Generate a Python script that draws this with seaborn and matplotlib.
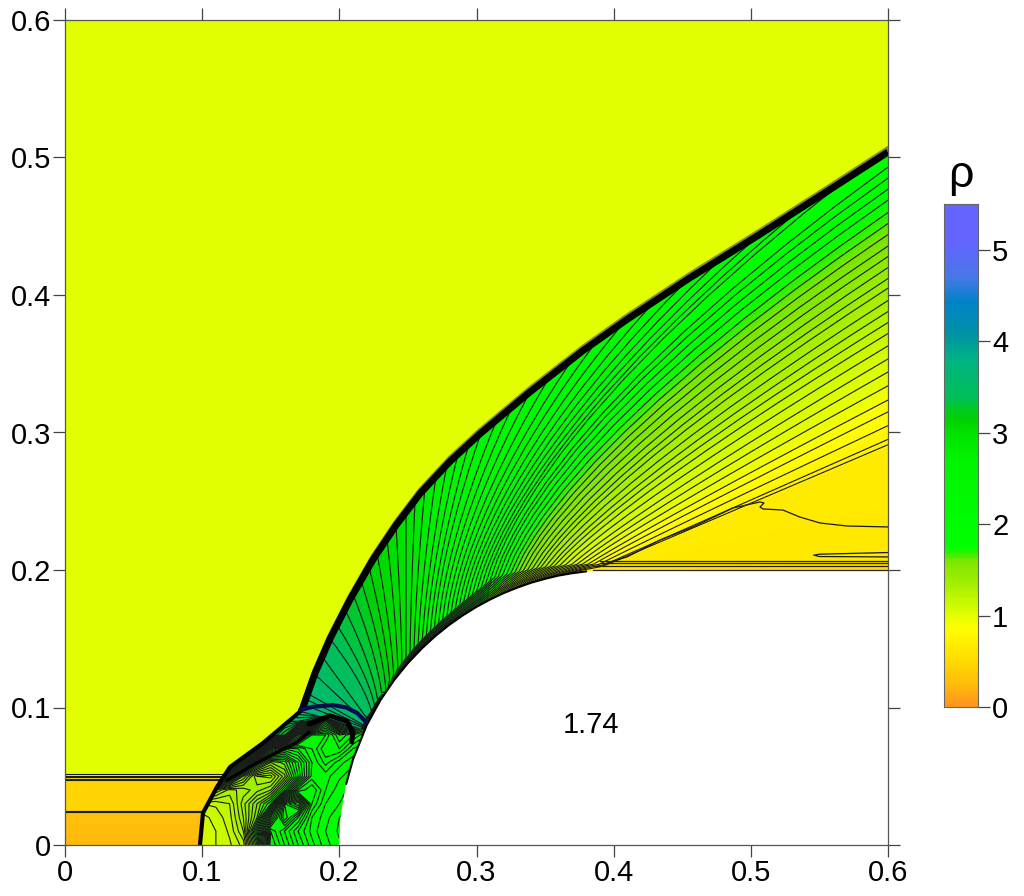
import numpy as np
import matplotlib
matplotlib.use("Agg")
import matplotlib.pyplot as plt
from matplotlib.colors import LinearSegmentedColormap
from matplotlib.patches import Polygon
import seaborn as sns

RHO_MAX = 5.5

# colour bar stops
CMAP_RHO = [0, .25, .5, .85, 1.0, 1.3, 1.6, 1.68, 1.75, 2.7, 3.0, 3.15, 3.4, 3.8, 4.1, 4.45, 4.7, 5.1, 5.5]
CMAP_RGB = [(255, 150, 30), (255, 190, 10), (255, 220, 0), (255, 255, 0), (223, 255, 0), (170, 240, 0),
            (120, 230, 0), (40, 245, 0), (0, 255, 0), (0, 245, 0), (0, 225, 0), (0, 210, 0), (0, 190, 90),
            (0, 180, 130), (0, 145, 165), (0, 130, 200), (70, 120, 230), (100, 100, 255), (100, 100, 255)]

# shocked layer: one row per station running from the body out to the shock / right edge
outer_x = [.6] * 28 + [
    .5723, .5395, .5067, .479, .4542, .4301, .4083, .3878, .3703, .3536,
    .339, .3259, .3149, .3033, .2945, .2865, .2785, .2705, .2624, .2552,
    .2486, .2413, .2347, .2275, .2216, .2158, .21, .2041, .1983, .1932,
    .1875, .182, .177, .1725]
outer_y = [.2, .2065, .288,
    .295, .305, .315, .3236, .334, .344, .3535, .363, .372, .38, .388, .396,
    .405, .412, .42, .428, .4356, .444, .452, .46, .469, .477, .485, .493, .503,
    .4861, .4651, .4442, .427, .4116, .3957, .3812, .3667, .3538, .3409,
    .3295, .3185, .3094, .2997, .2916, .2843, .2766, .268, .2594, .2508,
    .2421, .2325, .2227, .212, .2025, .1924, .1823, .1713, .1599, .15,
    .137, .1243, .1101, .098]
wall_x = [.395, .39, .3855,
    .3827, .3791, .3754, .3718, .3682, .3645, .3609, .3572, .3536, .3499,
    .3471, .3442, .3413, .3385, .3356, .3327, .3299, .327, .3241, .3213, .3184, .3155, .3127, .3098, .3084,
    .3069, .304, .3011, .2982, .2953, .2923, .2894, .2865, .2836, .2807,
    .2778, .2748, .2719, .269, .2661, .2632, .2603, .2573, .2544, .2515,
    .2486, .2457, .2428, .2398, .2369, .234, .2311, .2282, .226, .2238,
    .2215, .2205, .2195, .2185]
wall_y = [.2, .1998, .1994,
    .1992, .1989, .1985, .198, .1975, .1968, .1961, .1954, .1945, .1936,
    .1929, .1921, .1912, .1903, .1894, .1883, .1873, .1862, .185, .1839, .1826, .1813, .18, .1785, .1778,
    .177, .1755, .1738, .1722, .1704, .1685, .1666, .1647, .1626, .1605,
    .1583, .156, .1536, .1511, .1486, .1459, .1431, .1401, .1375, .134,
    .1307, .1273, .1237, .1197, .1158, .1115, .107, .1024, .0986, .0946,
    .0902, .0882, .0862, .084]
rho_main = [.45, .62, .66,
    .75, .8, .85, .9, .95, 1.0, 1.05, 1.1, 1.15, 1.2, 1.25, 1.3,
    1.35, 1.4, 1.45, 1.5, 1.55, 1.6, 1.65, 1.7, 1.75, 1.8, 1.85, 1.9, 1.92,
    1.95, 2.0, 2.05, 2.1, 2.15, 2.2, 2.25, 2.3, 2.35, 2.4, 2.45, 2.5,
    2.55, 2.6, 2.65, 2.7, 2.75, 2.8, 2.85, 2.9, 2.95, 3.0, 3.05, 3.1,
    3.15, 3.2, 3.25, 3.3, 3.35, 3.4, 3.45, 3.5, 3.55, 3.7]
rho_wall = [.45, .55, .55,
    .58, .6, .62, .64, .68, .72, .76, .8, .84, .88, .92, .96,
    1.0, 1.04, 1.08, 1.12, 1.16, 1.2, 1.25, 1.3, 1.35, 1.4, 1.45, 1.5, 1.52,
    1.55, 1.6, 1.65, 1.7, 1.75, 1.8, 1.85, 1.9, 1.95, 2.0, 2.05, 2.1,
    2.15, 2.2, 2.25, 2.3, 2.35, 2.4, 2.5, 2.6, 2.7, 2.8, 2.9, 3.0,
    3.1, 3.2, 3.4, 3.6, 3.8, 4.0, 4.4, 4.7, 5.0, 5.2]
# how far each station bows away from its chord
station_bend = [1, 1, 1,
    1.0, 1.02, 1.04, 1.06, 1.08, 1.1, 1.12, 1.15, 1.18, 1.2, 1.22, 1.25,
    1.28, 1.3, 1.32, 1.35, 1.38, 1.4, 1.42, 1.44, 1.46, 1.48, 1.5, 1.5, 1.5,
    1.5, 1.5, 1.5, 1.5, 1.5, 1.5, 1.5, 1.5, 1.5, 1.5, 1.5, 1.5,
    1.5, 1.5, 1.45, 1.45, 1.4, 1.4, 1.4, 1.4, 1.4, 1.4, 1.4, 1.4,
    1.4, 1.4, 1.4, 1.4, 1.4, 1.4, 1, 1, 1, 1]
layer_t = [0, .02, .05, .1, .15, .2, .27, .35, .43, .52, .62, .72, .82, .91, 1]

# pocket behind the Mach stem, rows y = 0 .. 0.1, columns x = 0.10 .. 0.22
pocket_x = [.10, .11, .12, .13, .14, .15, .16, .17, .18, .19, .20, .21, .22]
pocket_y = [0, .01, .02, .03, .04, .05, .06, .07, .08, .09, .10]
pocket_rho = [
    [1.06, 1.10, 1.14, 1.22, 1.70, 2.55, 2.40, 2.25, 2.12, 2.02, 1.96, 1.92, 1.92],
    [1.06, 1.10, 1.16, 1.30, 1.85, 2.50, 2.35, 2.20, 2.08, 2.00, 1.94, 1.92, 1.92],
    [1.08, 1.12, 1.18, 1.35, 1.60, 2.20, 2.60, 2.35, 2.10, 2.02, 1.95, 1.93, 1.92],
    [1.15, 1.16, 1.20, 1.38, 1.55, 1.75, 2.55, 2.70, 2.20, 2.05, 2.00, 1.95, 1.92],
    [1.60, 1.40, 1.28, 1.32, 1.38, 1.45, 1.75, 2.15, 2.25, 2.10, 2.02, 1.98, 1.95],
    [3.00, 2.60, 1.95, 1.55, 1.30, 1.28, 1.48, 1.80, 2.12, 2.12, 2.06, 2.02, 1.98],
    [3.40, 3.40, 3.00, 2.35, 1.80, 1.55, 1.62, 1.85, 2.10, 2.22, 2.12, 2.06, 2.02],
    [3.40, 3.40, 3.40, 3.30, 2.90, 2.20, 2.00, 2.05, 2.15, 2.30, 2.30, 2.15, 2.10],
    [3.40, 3.40, 3.40, 3.40, 3.40, 3.40, 3.20, 2.50, 2.20, 2.20, 2.40, 2.30, 2.20],
    [3.40, 3.40, 3.40, 3.40, 3.40, 3.40, 3.40, 3.40, 3.30, 2.60, 3.20, 3.00, 2.60],
    [3.40, 3.40, 3.40, 3.40, 3.40, 3.40, 3.50, 3.60, 3.80, 4.20, 4.40, 4.20, 3.60],
]
pocket_edge_x = [.0984, .1006, .1108, .1203, .1444, .1713, .2185, .215, .21, .205, .2015, .2]
pocket_edge_y = [0, .0233, .0422, .0567, .0742, .0982, .084, .0758, .0624, .0444, .0245, 0]

# low density jet at the left
jet_x = [0, .125]
jet_y = [0, .024, .0255, .047, .0495, .052]
jet_rho = [.23, .28, .42, .47, .8, 1.0]
jet_lines = [.31, .37, .55, .65, .75, .85, .95]
jet_edge_x = [0, .0984, .1006, .1108, .1203, .125, 0]
jet_edge_y = [0, 0, .0233, .0422, .0567, .06, .06]

# shock, slip line, Mach stem
shock_x = [.6, .5577, .5045, .4556, .4097, .3776, .339, .3025, .2807, .2588, .2413, .2245,
           .2078, .1932, .1823, .1728]
shock_y = [.504, .4767, .4428, .4125, .3822, .3595, .3295, .299, .279, .2555, .2325, .2075,
           .1785, .15, .125, .0982]
bow_x = [.1728, .1444, .1203, .1108, .1006, .0984]
bow_y = [.0982, .0742, .0567, .0422, .0233, 0]
slip_x = [.118, .135, .152, .168, .178]
slip_y = [.047, .057, .066, .074, .082]
stem_x = [.1713, .181, .1954, .205, .2129, .2195]
stem_y = [.0982, .1005, .1018, .1, .096, .0895]
stem2_x = [.178, .193, .2056, .21, .209]
stem2_y = [.088, .094, .09, .0815, .075]

# isolated contours in the yellow wake
wavy_x = [.6, .5701, .5504, .5358, .5234, .5089, .5067, .5096, .5067, .487, .4578, .4338, .4097, .3951]
wavy_y = [.2313, .232, .2342, .2385, .2436, .2444, .2458, .2487, .2495, .2451, .2313, .2218, .2095, .2051]
wedge_x = [.6, .55, .5458, .55, .6]
wedge_y = [.2127, .2115, .2108, .2098, .2095]
wake_lines_y = [.2065, .2049, .2031, .2]
wake_line_start = [.39, .39, .385, .385]

body_x = [.2, .201, .205, .21, .22, .23, .24, .25, .26, .27, .28, .29, .3, .31, .32, .33, .34, .35,
          .36, .37, .38, .39, .4, .6]
body_y = [0, .02, .0444, .0624, .0872, .1054, .12, .1323, .1428, .152, .16, .167, .1732, .1786, .1833,
          .1873, .1908, .1936, .196, .1977, .199, .1997, .2, .2]

axis_ticks = [0, .1, .2, .3, .4, .5, .6]
axis_labels = ["0", "0.1", "0.2", "0.3", "0.4", "0.5", "0.6"]
bar_ticks = [0, 1, 2, 3, 4, 5]


def main():
    sns.set_theme(style="ticks")
    plt.rcParams["font.family"] = ["Liberation Sans", "DejaVu Sans"]

    cmap = LinearSegmentedColormap.from_list(
        "rho", [(r / RHO_MAX, tuple(c / 255 for c in rgb)) for r, rgb in zip(CMAP_RHO, CMAP_RGB)])
    fill_levels = np.arange(0, RHO_MAX + .02, .02)
    line_levels = np.arange(.70, RHO_MAX, .05)
    shade = dict(levels=fill_levels, cmap=cmap, vmin=0, vmax=RHO_MAX)
    ink = dict(colors="#1a1a1a", linewidths=.8, linestyles="solid")

    fig = plt.figure(figsize=(10.24, 8.96), dpi=100)
    ax = fig.add_axes([65 / 1024, 51 / 896, 823 / 1024, 825 / 896])
    ax.set_facecolor(cmap(1 / RHO_MAX))

    # jet
    jx, jy = np.meshgrid(jet_x, jet_y)
    jz = np.array([jet_rho, jet_rho]).T
    ax.contourf(jx, jy, jz, **shade)
    jl = ax.contour(jx, jy, jz, levels=jet_lines, **ink)
    jl.set_clip_path(Polygon(np.column_stack([jet_edge_x, jet_edge_y]), transform=ax.transData))

    # pocket behind the stem
    px, py = np.meshgrid(pocket_x, pocket_y)
    edge = Polygon(np.column_stack([pocket_edge_x, pocket_edge_y]), transform=ax.transData)
    pf = ax.contourf(px, py, np.array(pocket_rho), **shade)
    pl = ax.contour(px, py, np.array(pocket_rho), levels=line_levels, **ink)
    pf.set_clip_path(edge)
    pl.set_clip_path(edge)

    # shocked layer on a grid spanned by the stations
    t = np.array(layer_t)[None, :]
    wx, wy = np.array(wall_x)[:, None], np.array(wall_y)[:, None]
    ox, oy = np.array(outer_x)[:, None], np.array(outer_y)[:, None]
    gx = wx + (ox - wx) * t ** np.array(station_bend)[:, None]
    gy = wy + (oy - wy) * t
    main_rho, edge_rho = np.array(rho_main), np.array(rho_wall)
    gz = np.column_stack([edge_rho, (edge_rho + main_rho) / 2] + [main_rho] * (len(layer_t) - 2))
    ax.contourf(gx, gy, gz, **shade)
    ax.contour(gx, gy, gz, levels=line_levels, **ink)

    # body, with the dark numerical edge along the arc
    ax.fill_between(body_x, 0, body_y, color="white", zorder=3)
    ax.plot(body_x[2:21], body_y[2:21], color="black", lw=1.5, zorder=4)

    # shock and slip lines on top
    ax.plot(shock_x, np.array(shock_y) + .0028, color="#8a8a10", lw=3, zorder=4)
    ax.plot(shock_x, shock_y, color="black", lw=5, zorder=5, solid_capstyle="butt")
    ax.plot(bow_x, bow_y, color="black", lw=3.0, zorder=5, solid_capstyle="butt")
    ax.plot(slip_x, slip_y, color="black", lw=2.4, zorder=5)
    ax.plot(stem_x, stem_y, color="#0a0a50", lw=3, zorder=5)
    ax.plot(stem2_x, stem2_y, color="black", lw=3.6, zorder=5)

    # wake contours
    ax.plot(wavy_x, wavy_y, color="#1a1a1a", lw=.9, zorder=4)
    ax.plot(wedge_x, wedge_y, color="#1a1a1a", lw=.9, zorder=4)
    for y0, x0 in zip(wake_lines_y, wake_line_start):
        ax.plot([x0, .6], [y0, y0], color="#2a2000", lw=.9, zorder=4)

    ax.set_xlim(0, .6)
    ax.set_ylim(0, .6)
    ax.set_xticks(axis_ticks, axis_labels)
    ax.set_yticks(axis_ticks, axis_labels)
    ax.tick_params(top=True, right=True, direction="out", length=8.6, width=.9, color="#444444",
                   labelsize=21, labelcolor="black", pad=1.5)
    sns.despine(ax=ax, top=False, right=False)
    for s in ax.spines.values():
        s.set_color("#555555")
        s.set_linewidth(.9)
        s.set_zorder(6)
    ax.text(.3835, .0875, "1.74", fontsize=21, color="black", ha="center", va="center", zorder=6)

    # colour bar
    cax = fig.add_axes([944 / 1024, 189 / 896, 34 / 1024, 503 / 896])
    ramp = np.linspace(RHO_MAX, 0, 276)[:, None]
    sns.heatmap(ramp, ax=cax, cmap=cmap, vmin=0, vmax=RHO_MAX, cbar=False,
                xticklabels=False, yticklabels=False)
    cax.set_yticks([(RHO_MAX - v) / RHO_MAX * len(ramp) for v in bar_ticks], [str(v) for v in bar_ticks])
    cax.yaxis.tick_right()
    cax.tick_params(axis="y", direction="out", length=8.6, width=.9, color="#444444",
                    labelsize=21, labelcolor="black", rotation=0, pad=1.5)
    sns.despine(ax=cax, top=False, right=False, left=False, bottom=False)
    for s in cax.spines.values():
        s.set_visible(True)
        s.set_color("#666666")
        s.set_linewidth(.8)
    fig.text(961 / 1024, 1 - 176 / 896, "\u03c1", fontsize=32, ha="center", va="center", color="black")

    fig.savefig("out.png", dpi=100)


if __name__ == "__main__":
    main()
